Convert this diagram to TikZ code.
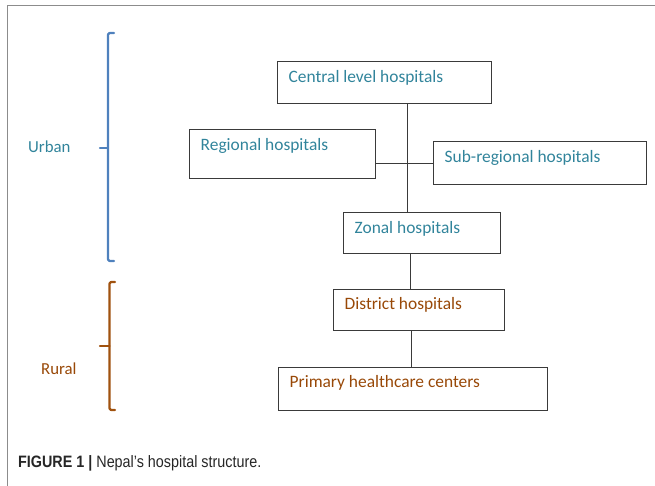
\documentclass[tikz,border=0pt]{standalone}
\usepackage{fontspec}
\setmainfont{Carlito}
\newfontfamily\capfont[FakeStretch=0.87]{Liberation Sans}
\definecolor{tealtxt}{HTML}{31849B}
\definecolor{browntxt}{HTML}{984807}
\definecolor{bluebr}{HTML}{4F81BD}
\definecolor{brownbr}{HTML}{A0520F}
\definecolor{framegray}{HTML}{8C8C8C}
\definecolor{boxline}{HTML}{3A3A3A}
\tikzset{
  box/.style={draw=boxline, line width=1pt, rectangle, inner sep=0pt},
  lblu/.style={anchor=north west, inner sep=0pt, xshift=12pt, yshift=-8.5pt, text=tealtxt, font=\fontsize{17.4}{20}\selectfont},
  lbrn/.style={anchor=north west, inner sep=0pt, xshift=12pt, yshift=-8.5pt, text=browntxt, font=\fontsize{17.4}{20}\selectfont},
  conn/.style={draw=boxline, line width=0.8pt},
  bracketline/.style={line width=2.2pt, line cap=round, line join=round, rounded corners=1.5pt},
  sidetxt/.style={anchor=base west, inner sep=0pt, font=\fontsize{16.8}{20}\selectfont},
}
\begin{document}
\begin{tikzpicture}[x=1pt,y=-1pt]
\useasboundingbox (0,0) rectangle (655,486);
% frame
\draw[framegray, line width=1pt] (7,486) -- (7,6) -- (655,6);
% boxes
\node[box, minimum width=214pt, minimum height=42pt, label={[lblu]north west:Central level hospitals}] (central) at (384,83) {};
\node[box, minimum width=186pt, minimum height=49pt, label={[lblu]north west:Regional hospitals}] (regional) at (282,154.5) {};
\node[box, minimum width=213pt, minimum height=43pt, label={[lblu]north west:Sub-regional hospitals}] (subreg) at (539.5,163.5) {};
\node[box, minimum width=157pt, minimum height=40pt, label={[lblu]north west:Zonal hospitals}] (zonal) at (421.5,233) {};
\node[box, minimum width=171pt, minimum height=41pt, label={[lbrn]north west:District hospitals}] (district) at (418.5,309.5) {};
\node[box, minimum width=269pt, minimum height=43pt, label={[lbrn]north west:Primary healthcare centers}] (primary) at (412.5,388.5) {};
% connector guides
\coordinate (spineA) at (407,0);
\coordinate (spineB) at (410,0);
\coordinate (spineC) at (411,0);
\draw[conn] (central.south -| spineA) -- (zonal.north -| spineA);
\draw[conn] (subreg.west) -- (regional.east |- subreg.west);
\draw[conn] (zonal.south -| spineB) -- (district.north -| spineB);
\draw[conn] (district.south -| spineC) -- (primary.north -| spineC);
% brackets
\draw[bracketline, bluebr] (114,33) -- (108,33) -- (108,261) -- (114,261);
\draw[bracketline, bluebr] (100,148) -- (108,148);
\draw[bracketline, brownbr] (115,282) -- (109.5,282) -- (109.5,410) -- (115,410);
\draw[bracketline, brownbr] (100,346) -- (109.5,346);
% side labels
\node[sidetxt, text=tealtxt] (urban) at (28,153) {Urban};
\node[sidetxt, text=browntxt] (rural) at (41,374.5) {Rural};
% caption
\node[anchor=base west, inner sep=0pt, font=\capfont\fontsize{16.5}{18}\selectfont, text=black!85] (caption) at (18,467.5) {\textbf{FIGURE 1 |} Nepal’s hospital structure.};
\end{tikzpicture}
\end{document}
